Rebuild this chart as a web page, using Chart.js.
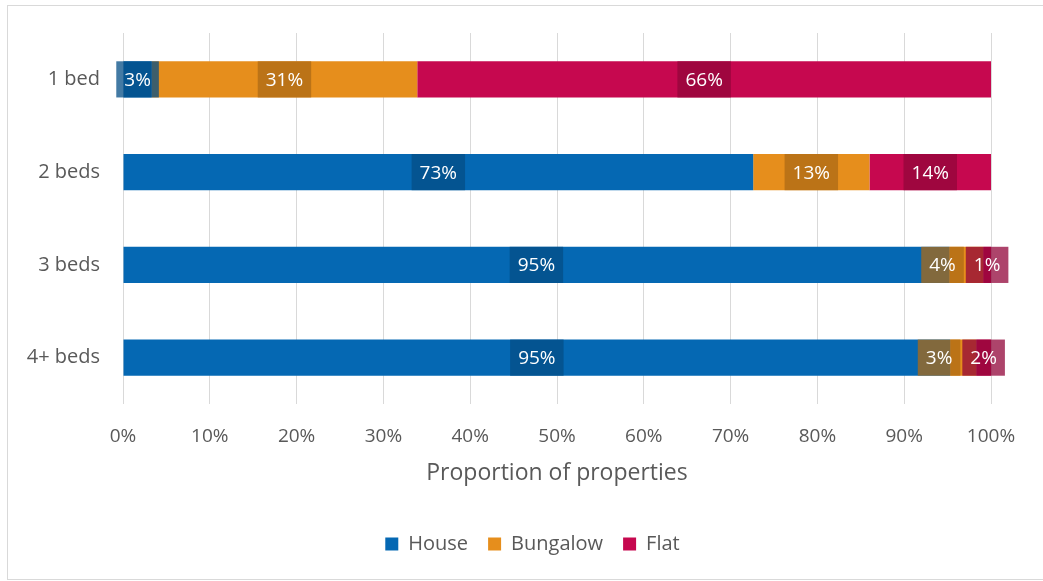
<!DOCTYPE html>
<html>
<head>
<meta charset="utf-8">
<script src="https://cdn.jsdelivr.net/npm/chart.js@4.4.1/dist/chart.umd.min.js"></script>
<style>
  html, body { margin: 0; padding: 0; background: #fff; }
  #wrap { position: relative; width: 1043px; height: 581px; overflow: hidden; }
  #frame { position: absolute; left: 7px; top: 5px; width: 1100px; height: 575px; border: 1px solid #d9d9d9; box-sizing: border-box; }
  canvas { position: absolute; left: 0; top: 0; }
</style>
</head>
<body>
<div id="wrap">
  <div id="frame"></div>
  <canvas id="bedsChart" width="1043" height="581"></canvas>
</div>
<script>
const categories = ['1 bed', '2 beds', '3 beds', '4+ beds'];
const house = [3.3, 72.6, 95.2, 95.3];
const bungalow = [30.6, 13.4, 3.9, 3.0];
const flat = [66.1, 14.0, 0.9, 1.7];
const xTicks = [0, 10, 20, 30, 40, 50, 60, 70, 80, 90, 100];

const FONT = '"Open Sans", sans-serif';
const GREY = '#595959';

// darker see-through boxes behind the percentage labels, one per series
const labelFills = ['rgba(4, 78, 134, 0.75)', 'rgba(172, 106, 21, 0.75)', 'rgba(146, 6, 58, 0.75)'];

const segmentLabels = {
  id: 'segmentLabels',
  afterDatasetsDraw(chart) {
    const ctx = chart.ctx;
    ctx.save();
    ctx.font = '19px ' + FONT;
    ctx.textAlign = 'center';
    ctx.textBaseline = 'middle';
    categories.forEach((cat, i) => {
      const boxes = [];
      chart.data.datasets.forEach((ds, d) => {
        const bar = chart.getDatasetMeta(d).data[i];
        const text = Math.round(ds.data[i]) + '%';
        const w = ctx.measureText(text).width + 16;
        boxes.push({ cx: (bar.x + bar.base) / 2, y: bar.y, h: bar.height, w: w, text: text, fill: labelFills[d] });
      });
      // push crowded labels to the left so they don't sit on top of each other
      for (let k = boxes.length - 2; k >= 0; k--) {
        const next = boxes[k + 1];
        const limit = next.cx - next.w / 2 - 2;
        if (boxes[k].cx + boxes[k].w / 2 > limit) {
          boxes[k].cx = limit - boxes[k].w / 2;
        }
      }
      boxes.forEach(b => {
        ctx.fillStyle = b.fill;
        ctx.fillRect(b.cx - b.w / 2, b.y - b.h / 2, b.w, b.h);
        ctx.fillStyle = '#fff';
        ctx.fillText(b.text, b.cx, b.y + 1);
      });
    });
    ctx.restore();
  }
};

// legend sits centred under the whole frame, not just the plot
const legendShift = {
  id: 'legendShift',
  afterLayout(chart) {
    chart.legend.left += 37;
    chart.legend.right += 37;
  }
};

const ctx = document.getElementById('bedsChart').getContext('2d');

new Chart(ctx, {
  type: 'bar',
  data: {
    labels: categories,
    datasets: [
      { label: 'House', data: house, backgroundColor: '#0568B3' },
      { label: 'Bungalow', data: bungalow, backgroundColor: '#E68E1C' },
      { label: 'Flat', data: flat, backgroundColor: '#C6084F' }
    ]
  },
  options: {
    indexAxis: 'y',
    responsive: false,
    animation: false,
    categoryPercentage: 1,
    barPercentage: 0.39,
    layout: { padding: { top: 33, right: 52, bottom: 17, left: 0 } },
    scales: {
      x: {
        stacked: true,
        min: 0,
        max: 100,
        afterBuildTicks(scale) {
          scale.ticks = xTicks.map(v => ({ value: v }));
        },
        afterFit(scale) {
          scale.height = 110;
        },
        grid: { color: '#d9d9d9', lineWidth: 1, drawTicks: false },
        border: { display: false },
        ticks: {
          padding: 21,
          color: GREY,
          font: { family: FONT, size: 19 },
          callback: v => v + '%'
        },
        title: {
          display: true,
          text: 'Proportion of properties',
          color: GREY,
          font: { family: FONT, size: 23 },
          padding: { top: 0, bottom: 27 }
        }
      },
      y: {
        stacked: true,
        afterFit(scale) {
          scale.width = 123;
        },
        grid: { display: false },
        border: { display: false },
        ticks: {
          padding: 15,
          color: GREY,
          font: { family: FONT, size: 20 }
        }
      }
    },
    plugins: {
      legend: {
        position: 'bottom',
        labels: {
          boxWidth: 13,
          boxHeight: 13,
          padding: 20,
          color: GREY,
          font: { family: FONT, size: 20 }
        }
      },
      tooltip: { enabled: false }
    }
  },
  plugins: [segmentLabels, legendShift]
});
</script>
</body>
</html>
